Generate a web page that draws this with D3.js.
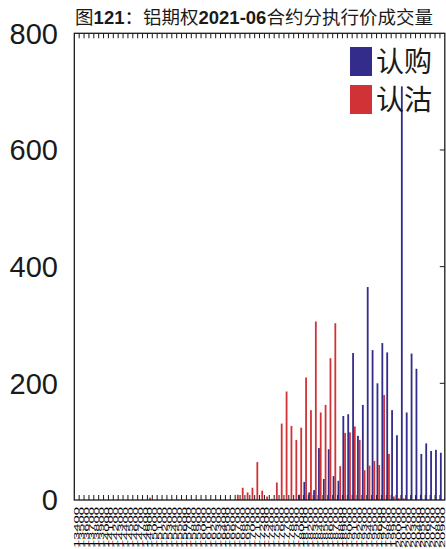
<!DOCTYPE html>
<html><head><meta charset="utf-8">
<script src="https://cdn.jsdelivr.net/npm/d3@7"></script>
<style>body{margin:0;background:#fff}svg{display:block}</style>
</head><body>
<script>
const strikes = ["13400","13500","13600","13700","13800","13900","14000","14100","14200","14300","14400","14500","14600","14700","14800","14900","15000","15100","15200","15300","15400","15500","15600","15700","15800","15900","16000","16100","16200","16300","16400","16500","16600","16700","16800","16900","17000","17100","17200","17300","17400","17500","17600","17700","17800","17900","18000","18100","18200","18300","18400","18500","18600","18700","18800","18900","19000","19100","19200","19300","19400","19500","19600","19700","19800","19900","20000","20100","20200","20300","20400","20500","20600","20700","20800","20900"];
const calls = [0,0,0,0,0,0,0,0,0,0,0,0,0,0,0,0,0,0,0,0,0,0,0,0,0,0,0,0,0,0,0,0,0,0,0,0,0,0,0,0,0,0,0,0,0,0,9,31,13,17,89,36,87,41,33,144,147,252,110,163,365,257,200,269,253,154,111,709,150,251,225,79,97,84,86,81];
const puts = [0,0,0,0,0,0,0,0,0,0,0,0,0,0,0,4,0,0,0,0,0,0,0,0,0,0,0,0,0,0,0,0,0,9,21,13,21,65,16,6,2,30,131,186,127,103,124,210,154,306,150,163,243,303,58,115,116,126,103,51,59,67,60,180,79,6,3,3,0,0,0,0,0,0,0,0];
const yTicks = [0,200,400,600,800];
const seriesNames = ["认购","认沽"];
const colors = ["#332c8a","#d13235"];

const W=446,H=549;
const L=74.3,R=444.8,T=33.3,B=500;
const svg=d3.select("body").append("svg").attr("width",W).attr("height",H);
const x=d3.scaleBand().domain(strikes).range([L,R]).padding(0);
const y=d3.scaleLinear().domain([0,800]).range([B,T]);
const bw=x.bandwidth();
const axisColor="#1a1a1a";

// category boundary ticks (bottom & top)
const bounds=strikes.slice(1).map(s=>x(s));
svg.append("g").selectAll("line").data(bounds).join("line")
  .attr("x1",d=>d).attr("x2",d=>d).attr("y1",B).attr("y2",B-5)
  .attr("stroke",axisColor).attr("stroke-width",1);
svg.append("g").selectAll("line").data(bounds).join("line")
  .attr("x1",d=>d).attr("x2",d=>d).attr("y1",T).attr("y2",T+5)
  .attr("stroke",axisColor).attr("stroke-width",1);

// bars
const bwid=1.8;
svg.append("g").selectAll("rect").data(calls.map((v,i)=>({k:strikes[i],v}))).join("rect")
  .attr("x",d=>x(d.k)).attr("width",bwid)
  .attr("y",d=>y(d.v)).attr("height",d=>y(0)-y(d.v)).attr("fill",colors[0]);
svg.append("g").selectAll("rect").data(puts.map((v,i)=>({k:strikes[i],v}))).join("rect")
  .attr("x",d=>x(d.k)+1.75).attr("width",bwid)
  .attr("y",d=>y(d.v)).attr("height",d=>y(0)-y(d.v)).attr("fill",colors[1]);

// frame
svg.append("rect").attr("x",L).attr("y",T).attr("width",R-L).attr("height",B-T)
  .attr("fill","none").attr("stroke",axisColor).attr("stroke-width",1.3);

// y axis ticks right side (inward)
svg.append("g").selectAll("line").data(yTicks.slice(1,-1)).join("line")
  .attr("x1",R).attr("x2",R-5).attr("y1",d=>y(d)).attr("y2",d=>y(d))
  .attr("stroke",axisColor).attr("stroke-width",1);

// y labels
svg.append("g").selectAll("text").data(yTicks).join("text")
  .attr("x",58).attr("y",d=>y(d)).attr("dy","0.36em")
  .attr("text-anchor","end").attr("font-family","Liberation Sans, Arial, sans-serif")
  .attr("font-size",29).attr("fill","#1a1a1a").text(d=>d);

// x labels
svg.append("g").selectAll("text").data(strikes).join("text")
  .attr("transform",d=>`translate(${x(d)+bw/2+2.6},507) rotate(-90) scale(1.85,1)`)
  .attr("text-anchor","end").attr("font-family","Liberation Sans, Arial, sans-serif")
  .attr("font-size",8).attr("fill","#000").text(d=>d);

// title
const title=svg.append("text").attr("x",254).attr("y",24).attr("text-anchor","middle")
  .attr("font-family","Noto Sans CJK SC, sans-serif").attr("font-size",18.5).attr("fill","#1a1a1a");
[["图",false],["121",true],["：",false],["铝期权",false],["2021-06",true],["合约分执行价成交量",false]].forEach(([t,b])=>{
  const s=title.append("tspan").text(t);
  if(b) s.attr("font-weight","bold").attr("font-family","Liberation Sans, Arial, sans-serif").attr("font-size",18.5);
});

// legend
const lg=svg.append("g");
seriesNames.forEach((n,i)=>{
  const yy=47+i*38;
  lg.append("rect").attr("x",350).attr("y",yy).attr("width",22).attr("height",29).attr("fill",colors[i]);
  lg.append("text").attr("x",376).attr("y",yy+25).attr("font-family","Noto Sans CJK SC, sans-serif")
    .attr("font-size",28).attr("fill","#1a1a1a").text(n);
});
</script>
</body></html>
